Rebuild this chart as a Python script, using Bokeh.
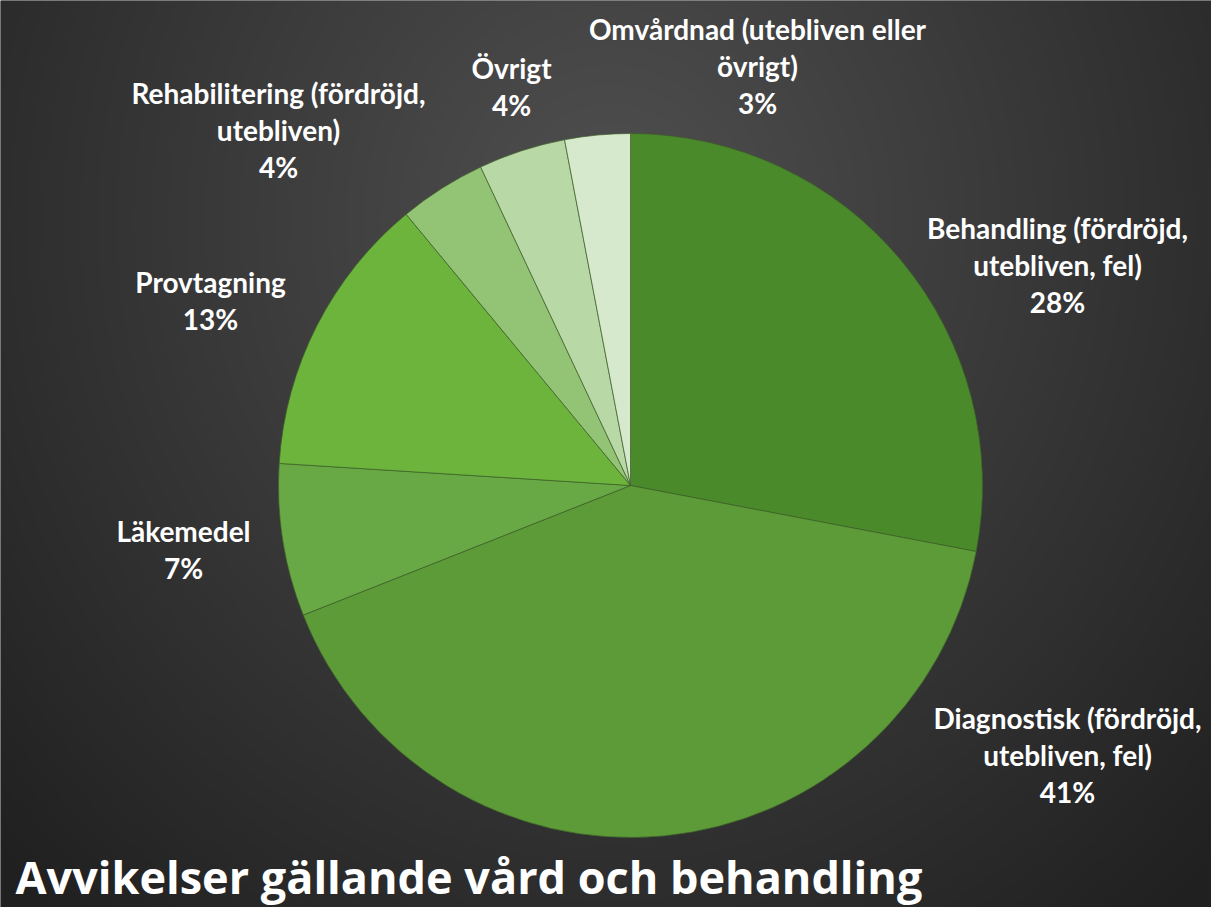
import numpy as np
from bokeh.plotting import figure
from bokeh.models import ColumnDataSource, Range1d
from bokeh.core.properties import value
from bokeh.embed import file_html
from bokeh.resources import INLINE

# ---- data ----
categories = ["Behandling (fördröjd, utebliven, fel)",
              "Diagnostisk (fördröjd, utebliven, fel)",
              "Läkemedel",
              "Provtagning",
              "Rehabilitering (fördröjd, utebliven)",
              "Övrigt",
              "Omvårdnad (utebliven eller övrigt)"]
percent = [28, 41, 7, 13, 4, 4, 3]
label_lines = [["Behandling (fördröjd,", "utebliven, fel)"],
               ["Diagnostisk (fördröjd,", "utebliven, fel)"],
               ["Läkemedel"],
               ["Provtagning"],
               ["Rehabilitering (fördröjd,", "utebliven)"],
               ["Övrigt"],
               ["Omvårdnad (utebliven eller", "övrigt)"]]
title_text = "Avvikelser gällande vård och behandling"

# ---- styles / layout ----
colors = ["#4b8a2b", "#5c9b37", "#68a845", "#6db43d", "#93c476", "#b8d8a5", "#d6e9cc"]
W, H = 1211, 907
CX, CY, R = 630, 907 - 485, 352
# label block anchor (x center, y of first line) in screen pixels (top-down)
label_pos = [(1057, 227), (1067, 717), (183, 530), (210, 281), (278, 92), (511, 67), (757, 28)]
LINE_GAP = 37

p = figure(width=W, height=H, output_backend="svg", toolbar_location=None,
           x_range=Range1d(0, W), y_range=Range1d(0, H), min_border=0)
p.axis.visible = False
p.grid.visible = False
p.outline_line_color = None
p.background_fill_color = "#2a2a2a"
p.border_fill_color = "#2a2a2a"

# background radial gradient
hs, ws = (H + 1) // 2, (W + 1) // 2
yy, xx = np.mgrid[0:hs, 0:ws]
px = xx * 2.0
py = H - yy * 2.0  # screen y from top
d = np.sqrt((px - 610) ** 2 + ((py - 220) / 1.1) ** 2)
t = np.clip(d / 850.0, 0, 1)
c_in = np.array([0x50, 0x50, 0x50], float)
c_out = np.array([0x20, 0x20, 0x20], float)
rgb = c_in[None, None, :] * (1 - t[..., None]) + c_out[None, None, :] * t[..., None]
img = np.empty((hs, ws), dtype=np.uint32)
v = img.view(dtype=np.uint8).reshape((hs, ws, 4))
v[..., 0] = rgb[..., 0].astype(np.uint8)
v[..., 1] = rgb[..., 1].astype(np.uint8)
v[..., 2] = rgb[..., 2].astype(np.uint8)
v[..., 3] = 255
p.image_rgba(image=[img], x=0, y=0, dw=W, dh=H)

# pie
frac = np.array(percent, float) / sum(percent)
cum = np.concatenate([[0], np.cumsum(frac)])
start = np.pi / 2 - 2 * np.pi * cum[:-1]
end = np.pi / 2 - 2 * np.pi * cum[1:]
src = ColumnDataSource(dict(start=start, end=end, color=colors, cat=categories))
p.wedge(x=CX, y=CY, radius=R, start_angle="start", end_angle="end", direction="clock",
        fill_color="color", line_color="#3d5f2a", line_width=1, line_alpha=0.7, source=src)

# labels
xs, ys, txt = [], [], []
for lines, pct, (lx, ly) in zip(label_lines, percent, label_pos):
    all_lines = lines + [f"{pct}%"]
    for i, s in enumerate(all_lines):
        xs.append(lx)
        ys.append(H - (ly + i * LINE_GAP))
        txt.append(s)
p.text(x=xs, y=ys, text=txt, text_color="white", text_font=value("Lato"),
       text_font_style="bold", text_font_size="28px", text_align="center",
       text_baseline="middle")

p.text(x=[15], y=[H - 876], text=[title_text], text_color="white",
       text_font=value("Open Sans"), text_font_style="bold", text_font_size="45px",
       text_align="left", text_baseline="middle")

open("out.html", "w").write(file_html(p, INLINE))
